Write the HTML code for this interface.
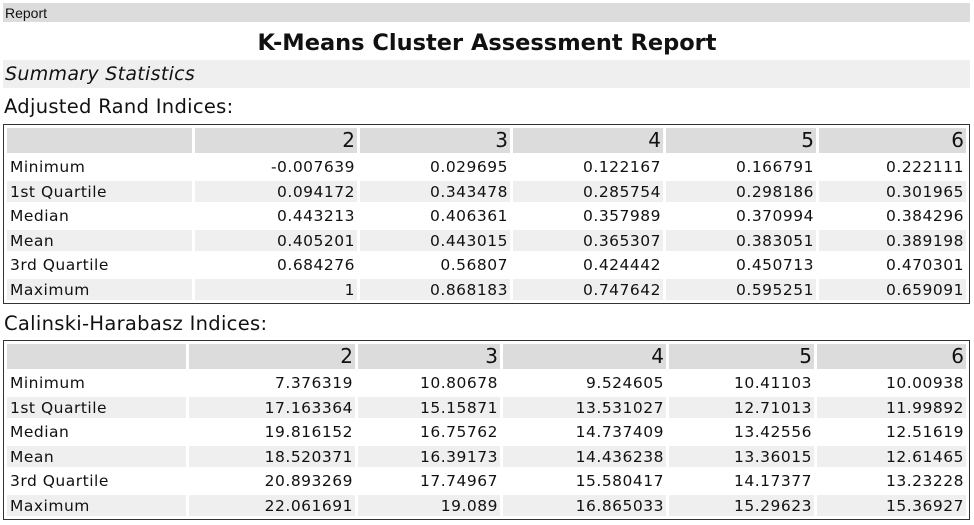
<!DOCTYPE html>
<html><head><style>
body{margin:0;width:974px;height:525px;background:#fff;font-family:"DejaVu Sans",Verdana,sans-serif;color:#111;overflow:hidden;position:relative}
.bar{position:absolute;left:3px;width:967px;background:#dcdcdc}
table{position:absolute;left:3px;border:1px solid #333;border-spacing:3px;table-layout:fixed;box-sizing:border-box;width:967px}
td{padding:2px 2px 0 3px;font-size:15.5px;letter-spacing:0.5px;height:19.5px;line-height:19.5px;text-align:right;white-space:nowrap;overflow:hidden}
td:first-child{text-align:left}
tr.h td{background:#dcdcdc;font-size:20px;letter-spacing:0;height:25px;line-height:25px;padding-top:0}
tr.w td{background:#fff}
tr.g td{background:#efefef}
</style></head><body>
<div class="bar" style="top:3px;height:19px;font-family:'Liberation Sans',sans-serif;font-size:14px;line-height:20px;padding-left:2px;box-sizing:border-box">Report</div>
<div style="position:absolute;top:29px;left:0;width:974px;text-align:center;font-weight:bold;font-size:22.5px;line-height:28px">K-Means Cluster Assessment Report</div>
<div class="bar" style="top:60px;height:28px;background:#efefef;font-style:italic;font-size:19px;letter-spacing:0.3px;line-height:29px;padding-left:2px;box-sizing:border-box">Summary Statistics</div>
<div style="position:absolute;top:94px;left:4px;font-size:19.5px;letter-spacing:0.3px;line-height:26px">Adjusted Rand Indices:</div>
<table style="top:124px">
<colgroup><col style="width:185px"><col style="width:162px"><col style="width:150px"><col style="width:150px"><col style="width:150px"><col style="width:147px"></colgroup>
<tr class="h"><td></td><td>2</td><td>3</td><td>4</td><td>5</td><td>6</td></tr>
<tr class="w"><td>Minimum</td><td>-0.007639</td><td>0.029695</td><td>0.122167</td><td>0.166791</td><td>0.222111</td></tr>
<tr class="g"><td>1st Quartile</td><td>0.094172</td><td>0.343478</td><td>0.285754</td><td>0.298186</td><td>0.301965</td></tr>
<tr class="w"><td>Median</td><td>0.443213</td><td>0.406361</td><td>0.357989</td><td>0.370994</td><td>0.384296</td></tr>
<tr class="g"><td>Mean</td><td>0.405201</td><td>0.443015</td><td>0.365307</td><td>0.383051</td><td>0.389198</td></tr>
<tr class="w"><td>3rd Quartile</td><td>0.684276</td><td>0.56807</td><td>0.424442</td><td>0.450713</td><td>0.470301</td></tr>
<tr class="g"><td>Maximum</td><td>1</td><td>0.868183</td><td>0.747642</td><td>0.595251</td><td>0.659091</td></tr>
</table>
<div style="position:absolute;top:311px;left:4px;font-size:19.5px;letter-spacing:0.3px;line-height:26px">Calinski-Harabasz Indices:</div>
<table style="top:340px">
<colgroup><col style="width:179px"><col style="width:166px"><col style="width:142px"><col style="width:163px"><col style="width:145px"><col style="width:149px"></colgroup>
<tr class="h"><td></td><td>2</td><td>3</td><td>4</td><td>5</td><td>6</td></tr>
<tr class="w"><td>Minimum</td><td>7.376319</td><td>10.80678</td><td>9.524605</td><td>10.41103</td><td>10.00938</td></tr>
<tr class="g"><td>1st Quartile</td><td>17.163364</td><td>15.15871</td><td>13.531027</td><td>12.71013</td><td>11.99892</td></tr>
<tr class="w"><td>Median</td><td>19.816152</td><td>16.75762</td><td>14.737409</td><td>13.42556</td><td>12.51619</td></tr>
<tr class="g"><td>Mean</td><td>18.520371</td><td>16.39173</td><td>14.436238</td><td>13.36015</td><td>12.61465</td></tr>
<tr class="w"><td>3rd Quartile</td><td>20.893269</td><td>17.74967</td><td>15.580417</td><td>14.17377</td><td>13.23228</td></tr>
<tr class="g"><td>Maximum</td><td>22.061691</td><td>19.089</td><td>16.865033</td><td>15.29623</td><td>15.36927</td></tr>
</table>
</body></html>
